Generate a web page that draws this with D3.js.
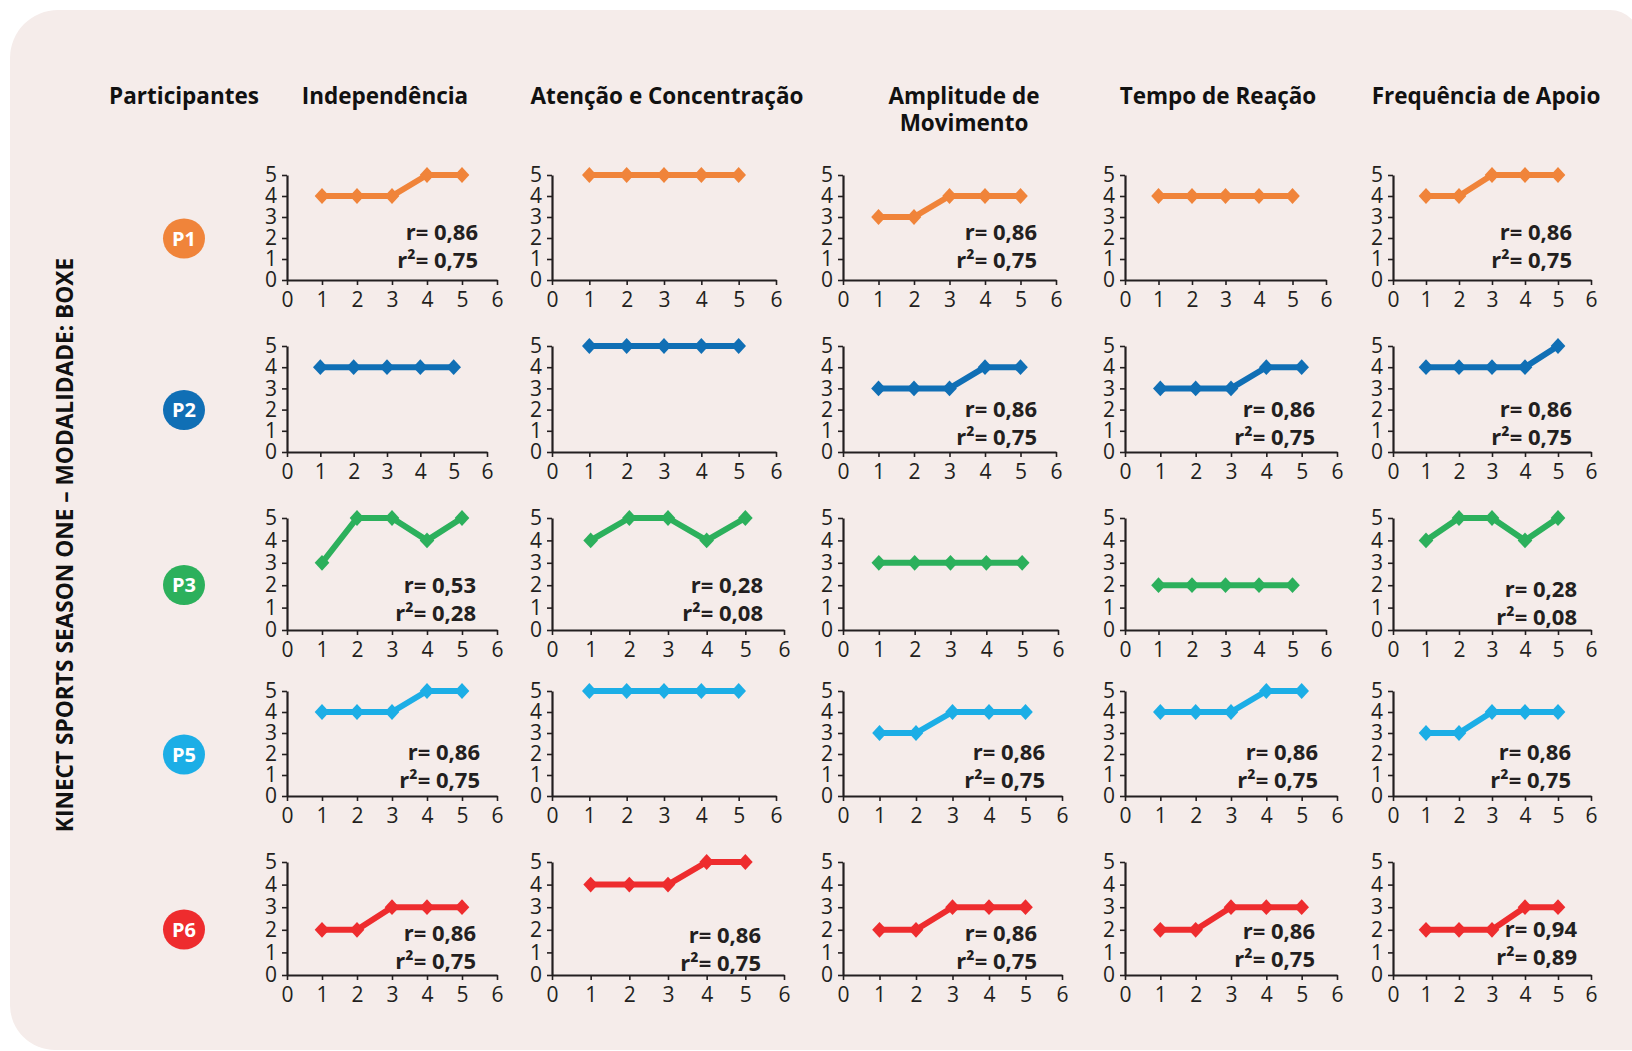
<!DOCTYPE html>
<html>
<head>
<meta charset="utf-8">
<script src="https://cdn.jsdelivr.net/npm/d3@7"></script>
<style>
  html, body { margin: 0; padding: 0; background: #ffffff; }
  svg { display: block; font-family: "Open Sans", sans-serif; }
</style>
</head>
<body>
<div id="chart"></div>
<script>
  // ---- data ----
  const participants = ['P1', 'P2', 'P3', 'P5', 'P6'];
  const metrics = ['Independência', 'Atenção e Concentração', 'Amplitude de|Movimento', 'Tempo de Reação', 'Frequência de Apoio'];
  const sessions = [1, 2, 3, 4, 5];
  const xTicks = [0, 1, 2, 3, 4, 5, 6];
  const yTicks = [0, 1, 2, 3, 4, 5];
  const sideTitle = 'KINECT SPORTS SEASON ONE – MODALIDADE: BOXE';

  // one row per metric (Independência ... Frequência de Apoio)
  const p1Scores = [[4, 4, 4, 5, 5], [5, 5, 5, 5, 5], [3, 3, 4, 4, 4], [4, 4, 4, 4, 4], [4, 4, 5, 5, 5]];
  const p2Scores = [[4, 4, 4, 4, 4], [5, 5, 5, 5, 5], [3, 3, 3, 4, 4], [3, 3, 3, 4, 4], [4, 4, 4, 4, 5]];
  const p3Scores = [[3, 5, 5, 4, 5], [4, 5, 5, 4, 5], [3, 3, 3, 3, 3], [2, 2, 2, 2, 2], [4, 5, 5, 4, 5]];
  const p5Scores = [[4, 4, 4, 5, 5], [5, 5, 5, 5, 5], [3, 3, 4, 4, 4], [4, 4, 4, 5, 5], [3, 3, 4, 4, 4]];
  const p6Scores = [[2, 2, 3, 3, 3], [4, 4, 4, 5, 5], [2, 2, 3, 3, 3], [2, 2, 3, 3, 3], [2, 2, 2, 3, 3]];

  // [r, r²] per metric, null when not shown
  const p1Stats = [['0,86', '0,75'], null, ['0,86', '0,75'], null, ['0,86', '0,75']];
  const p2Stats = [null, null, ['0,86', '0,75'], ['0,86', '0,75'], ['0,86', '0,75']];
  const p3Stats = [['0,53', '0,28'], ['0,28', '0,08'], null, null, ['0,28', '0,08']];
  const p5Stats = [['0,86', '0,75'], null, ['0,86', '0,75'], ['0,86', '0,75'], ['0,86', '0,75']];
  const p6Stats = [['0,86', '0,75'], ['0,86', '0,75'], ['0,86', '0,75'], ['0,86', '0,75'], ['0,94', '0,89']];

  const scores = [p1Scores, p2Scores, p3Scores, p5Scores, p6Scores];
  const stats = [p1Stats, p2Stats, p3Stats, p5Stats, p6Stats];
  const colors = ['#f0843a', '#106fb5', '#2cb05c', '#1caee6', '#ee2c2e'];

  // ---- layout (pixels) ----
  const W = 1632, H = 1051;
  const colX = [287, 552, 843, 1125, 1393];
  const rowTop = [175, 346, 518, 691, 862];
  const rowH = [105, 106, 112, 105, 113];
  const panelW = [
    [210, 224, 213, 201, 198],
    [200, 224, 213, 212, 198],
    [210, 232, 215, 201, 198],
    [210, 224, 219, 212, 198],
    [210, 232, 219, 212, 198]
  ];
  // annotation anchor: right edge offset from y axis, first baseline offset from top
  const notePos = [
    [[191, 65], null, [194, 65], null, [179, 65]],
    [null, null, [194, 71], [190, 71], [179, 71]],
    [[189, 75], [211, 75], null, null, [184, 79]],
    [[193, 69], null, [202, 69], [193, 69], [178, 69]],
    [[189, 79], [209, 81], [194, 79], [190, 77], [184, 75]]
  ];
  const headerX = [385, 667, 964, 1218, 1486];

  const svg = d3.select('#chart').append('svg')
    .attr('width', W)
    .attr('height', H);

  // rounded background card
  const bg = d3.path();
  const L = 10, T = 10, R = 1640, B = 1050;
  bg.moveTo(L + 48, T);
  bg.lineTo(R - 30, T);
  bg.arcTo(R, T, R, T + 30, 30);
  bg.lineTo(R, B);
  bg.lineTo(L + 45, B);
  bg.arcTo(L, B, L, B - 45, 45);
  bg.lineTo(L, T + 48);
  bg.arcTo(L, T, L + 48, T, 48);
  bg.closePath();
  svg.append('path').attr('d', bg.toString()).attr('fill', '#f5ecea');

  // column headers
  svg.append('text')
    .attr('x', 184).attr('y', 104)
    .attr('text-anchor', 'middle')
    .style('font-size', '22.5px').style('font-weight', 700).style('fill', '#111')
    .text('Participantes');

  metrics.forEach((m, i) => {
    const t = svg.append('text')
      .attr('x', headerX[i]).attr('y', 104)
      .attr('text-anchor', 'middle')
      .style('font-size', '22.5px').style('font-weight', 700).style('fill', '#111');
    m.split('|').forEach((line, k) => {
      t.append('tspan').attr('x', headerX[i]).attr('dy', k === 0 ? 0 : 27).text(line);
    });
  });

  // vertical side title
  svg.append('text')
    .attr('transform', 'translate(73,545) rotate(-90)')
    .attr('text-anchor', 'middle')
    .style('font-size', '22.7px').style('font-weight', 700).style('fill', '#111')
    .text(sideTitle);

  const diamond = {
    draw(ctx, size) {
      const r = Math.sqrt(size) / 2;
      ctx.moveTo(0, -r * 1.08);
      ctx.lineTo(r, 0);
      ctx.lineTo(0, r * 1.08);
      ctx.lineTo(-r, 0);
      ctx.closePath();
    }
  };

  participants.forEach((p, ri) => {
    const top = rowTop[ri];
    const h = rowH[ri];
    const color = colors[ri];

    // participant badge
    const cy = top + h / 2 + 11;
    svg.append('ellipse')
      .attr('cx', 184).attr('cy', cy)
      .attr('rx', 21).attr('ry', 20)
      .attr('fill', color);
    svg.append('text')
      .attr('x', 184).attr('y', cy)
      .attr('dy', '0.36em')
      .attr('text-anchor', 'middle')
      .style('font-size', '20px').style('font-weight', 700).style('fill', '#fff')
      .text(p);

    metrics.forEach((m, ci) => {
      const w = panelW[ri][ci];
      const g = svg.append('g').attr('transform', `translate(${colX[ci]},${top})`);

      const x = d3.scaleLinear().domain([0, 6]).range([0, w]);
      const y = d3.scaleLinear().domain([0, 5]).range([h, 0]);

      const xAxis = g.append('g')
        .attr('transform', `translate(0,${h})`)
        .call(d3.axisBottom(x).tickValues(xTicks).tickFormat(d3.format('d'))
          .tickSize(5).tickSizeOuter(0).tickPadding(7));
      const yAxis = g.append('g')
        .call(d3.axisLeft(y).tickValues(yTicks).tickFormat(d3.format('d'))
          .tickSize(5).tickSizeOuter(0).tickPadding(5));

      [xAxis, yAxis].forEach(a => {
        a.select('.domain').attr('stroke', '#231f20').attr('stroke-width', 2.2);
        a.selectAll('.tick line').attr('stroke', '#231f20').attr('stroke-width', 1.6);
        a.selectAll('text')
          .style('font-family', '"Open Sans", sans-serif')
          .style('font-size', '21px')
          .style('fill', '#231f20');
      });

      const vals = scores[ri][ci];
      const pts = sessions.map((s, k) => ({ s, v: vals[k] }));

      g.append('path')
        .datum(pts)
        .attr('fill', 'none')
        .attr('stroke', color)
        .attr('stroke-width', 6)
        .attr('stroke-linejoin', 'round')
        .attr('d', d3.line().x(d => x(d.s)).y(d => y(d.v)));

      g.selectAll('.mark')
        .data(pts)
        .enter()
        .append('path')
        .attr('class', 'mark')
        .attr('transform', d => `translate(${x(d.s)},${y(d.v)})`)
        .attr('fill', color)
        .attr('d', d3.symbol().type(diamond).size(215));

      const st = stats[ri][ci];
      const pos = notePos[ri][ci];
      if (st && pos) {
        const t = g.append('text')
          .attr('text-anchor', 'end')
          .style('font-size', '22px').style('font-weight', 700).style('fill', '#231f20');
        t.append('tspan').attr('x', pos[0]).attr('y', pos[1]).text('r= ' + st[0]);
        t.append('tspan').attr('x', pos[0]).attr('y', pos[1] + 27.5).text('r²= ' + st[1]);
      }
    });
  });
</script>
</body>
</html>
